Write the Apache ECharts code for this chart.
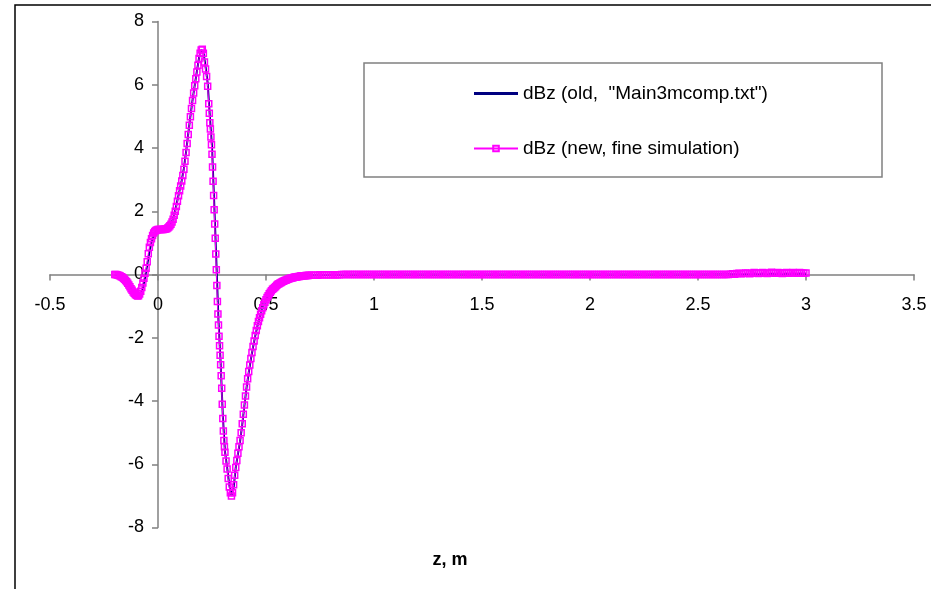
<!DOCTYPE html>
<html>
<head>
<meta charset="utf-8">
<title>dBz</title>
<script src="https://cdn.jsdelivr.net/npm/echarts@6/dist/echarts.min.js"></script>
<style>
html, body { margin: 0; padding: 0; background: #fff; }
#chart { width: 931px; height: 589px; }
</style>
</head>
<body>
<div id="chart"></div>
<script>
// dBz 对比：旧数据与新的精细仿真

const nameOld = 'dBz (old,  "Main3mcomp.txt")';
const nameNew = 'dBz (new, fine simulation)';

// 新仿真，z 从 -0.2 到 0.7
const zNew = [
    -0.2, -0.195, -0.19, -0.185, -0.18, -0.175, -0.17, -0.165, -0.16, -0.155,
    -0.15, -0.145, -0.14, -0.135, -0.13, -0.125, -0.12, -0.115, -0.11, -0.105,
    -0.1, -0.095, -0.09, -0.085, -0.08, -0.075, -0.07, -0.065, -0.06, -0.055,
    -0.05, -0.045, -0.04, -0.035, -0.03, -0.025, -0.02, -0.015, -0.01, -0.005,
    0, 0.005, 0.01, 0.015, 0.02, 0.025, 0.03, 0.035, 0.04, 0.045,
    0.05, 0.055, 0.06, 0.065, 0.07, 0.075, 0.08, 0.085, 0.09, 0.095,
    0.1, 0.105, 0.11, 0.115, 0.12, 0.125, 0.13, 0.135, 0.14, 0.145,
    0.15, 0.155, 0.16, 0.165, 0.17, 0.175, 0.18, 0.185, 0.19, 0.195,
    0.2, 0.205, 0.21, 0.215, 0.22, 0.225, 0.23, 0.235,
    0.2375, 0.24, 0.2425, 0.245, 0.2475, 0.25, 0.2525, 0.255, 0.2575, 0.26,
    0.2625, 0.265, 0.2675, 0.27, 0.2725, 0.275, 0.2775, 0.28, 0.2825, 0.285,
    0.2875, 0.29, 0.2925, 0.295, 0.2975, 0.3, 0.3025, 0.305, 0.3075, 0.31,
    0.315, 0.32, 0.325, 0.33, 0.335, 0.34, 0.345,
    0.35, 0.355, 0.36, 0.365, 0.37, 0.375, 0.38, 0.385, 0.39, 0.395,
    0.4, 0.405, 0.41, 0.415, 0.42, 0.425, 0.43, 0.435, 0.44, 0.445,
    0.45, 0.455, 0.46, 0.465, 0.47, 0.475, 0.48, 0.485, 0.49, 0.495,
    0.5, 0.505, 0.51, 0.515, 0.52, 0.525, 0.53, 0.535, 0.54, 0.545,
    0.55, 0.555, 0.56, 0.565, 0.57, 0.575, 0.58, 0.585, 0.59, 0.595,
    0.6, 0.605, 0.61, 0.615, 0.62, 0.625, 0.63, 0.635, 0.64, 0.645,
    0.65, 0.655, 0.66, 0.665, 0.67, 0.675, 0.68, 0.685, 0.69, 0.695,
    0.7
];
const dBzNew = [
    0, 0, -0.01, -0.02, -0.03, -0.05, -0.07, -0.09, -0.12, -0.15,
    -0.19, -0.23, -0.28, -0.33, -0.39, -0.45, -0.5, -0.55, -0.59, -0.63,
    -0.66, -0.68, -0.67, -0.62, -0.53, -0.41, -0.27, -0.12, 0.04, 0.2,
    0.4, 0.66, 0.86, 1.01, 1.13, 1.23, 1.31, 1.36, 1.39, 1.41,
    1.42, 1.42, 1.42, 1.42, 1.42, 1.42, 1.43, 1.44, 1.45, 1.47,
    1.5, 1.54, 1.59, 1.66, 1.75, 1.87, 2, 2.15, 2.32, 2.49,
    2.65, 2.8, 2.96, 3.13, 3.33, 3.58, 3.86, 4.14, 4.43, 4.72,
    4.99, 5.25, 5.5, 5.74, 5.97, 6.19, 6.4, 6.62, 6.83, 7,
    7.1, 7.12, 7, 6.72, 6.5, 6.26, 5.95, 5.4,
    5.1, 4.8, 4.6, 4.35, 4.1, 3.8, 3.4, 2.95, 2.5, 2.05,
    1.6, 1.15, 0.65, 0.15, -0.35, -0.85, -1.25, -1.6, -1.95, -2.25,
    -2.55, -2.85, -3.2, -3.6, -4.1, -4.55, -4.95, -5.25, -5.45, -5.62,
    -5.9, -6.15, -6.45, -6.72, -6.9, -7, -6.9,
    -6.65, -6.35, -6.1, -5.88, -5.65, -5.45, -5.25, -5, -4.72, -4.42,
    -4.13, -3.84, -3.56, -3.3, -3.07, -2.86, -2.66, -2.47, -2.28, -2.1,
    -1.93, -1.77, -1.62, -1.49, -1.37, -1.26, -1.15, -1.05, -0.96, -0.88,
    -0.8, -0.73, -0.67, -0.61, -0.56, -0.51, -0.47, -0.44, -0.41, -0.38,
    -0.34, -0.31, -0.29, -0.27, -0.25, -0.23, -0.21, -0.2, -0.18, -0.17,
    -0.15, -0.14, -0.13, -0.12, -0.11, -0.1, -0.09, -0.08, -0.08, -0.07,
    -0.06, -0.06, -0.05, -0.05, -0.04, -0.04, -0.04, -0.03, -0.03, -0.03,
    -0.02
];

// 新仿真的尾部，z 从 0.71 到 3.0
const zTail = [
    0.71, 0.72, 0.73, 0.74, 0.75, 0.76, 0.77, 0.78, 0.79, 0.8,
    0.81, 0.82, 0.83, 0.84, 0.85, 0.86, 0.87, 0.88, 0.89, 0.9,
    0.91, 0.92, 0.93, 0.94, 0.95, 0.96, 0.97, 0.98, 0.99, 1,
    1.01, 1.02, 1.03, 1.04, 1.05, 1.06, 1.07, 1.08, 1.09, 1.1,
    1.11, 1.12, 1.13, 1.14, 1.15, 1.16, 1.17, 1.18, 1.19, 1.2,
    1.21, 1.22, 1.23, 1.24, 1.25, 1.26, 1.27, 1.28, 1.29, 1.3,
    1.31, 1.32, 1.33, 1.34, 1.35, 1.36, 1.37, 1.38, 1.39, 1.4,
    1.41, 1.42, 1.43, 1.44, 1.45, 1.46, 1.47, 1.48, 1.49, 1.5,
    1.51, 1.52, 1.53, 1.54, 1.55, 1.56, 1.57, 1.58, 1.59, 1.6,
    1.61, 1.62, 1.63, 1.64, 1.65, 1.66, 1.67, 1.68, 1.69, 1.7,
    1.71, 1.72, 1.73, 1.74, 1.75, 1.76, 1.77, 1.78, 1.79, 1.8,
    1.81, 1.82, 1.83, 1.84, 1.85, 1.86, 1.87, 1.88, 1.89, 1.9,
    1.91, 1.92, 1.93, 1.94, 1.95, 1.96, 1.97, 1.98, 1.99, 2,
    2.01, 2.02, 2.03, 2.04, 2.05, 2.06, 2.07, 2.08, 2.09, 2.1,
    2.11, 2.12, 2.13, 2.14, 2.15, 2.16, 2.17, 2.18, 2.19, 2.2,
    2.21, 2.22, 2.23, 2.24, 2.25, 2.26, 2.27, 2.28, 2.29, 2.3,
    2.31, 2.32, 2.33, 2.34, 2.35, 2.36, 2.37, 2.38, 2.39, 2.4,
    2.41, 2.42, 2.43, 2.44, 2.45, 2.46, 2.47, 2.48, 2.49, 2.5,
    2.51, 2.52, 2.53, 2.54, 2.55, 2.56, 2.57, 2.58, 2.59, 2.6,
    2.61, 2.62, 2.63, 2.64, 2.65, 2.66, 2.67, 2.68, 2.69, 2.7,
    2.71, 2.72, 2.73, 2.74, 2.75, 2.76, 2.77, 2.78, 2.79, 2.8,
    2.81, 2.82, 2.83, 2.84, 2.85, 2.86, 2.87, 2.88, 2.89, 2.9,
    2.91, 2.92, 2.93, 2.94, 2.95, 2.96, 2.97, 2.98, 2.99, 3
];
const dBzTail = [
    -0.02, -0.02, -0.02, -0.02, -0.01, -0.01, -0.01, -0.01, -0.01, -0.01,
    -0.01, -0.01, -0.01, -0.01, 0, 0, 0, 0, 0, 0,
    0, 0, 0, 0, 0, 0, 0, 0, 0, 0,
    0, 0, 0, 0, 0, 0, 0, 0, 0, 0,
    0, 0, 0, 0, 0, 0, 0, 0, 0, 0,
    0, 0, 0, 0, 0, 0, 0, 0, 0, 0,
    0, 0, 0, 0, 0, 0, 0, 0, 0, 0,
    0, 0, 0, 0, 0, 0, 0, 0, 0, 0,
    0, 0, 0, 0, 0, 0, 0, 0, 0, 0,
    0, 0, 0, 0, 0, 0, 0, 0, 0, 0,
    0, 0, 0, 0, 0, 0, 0, 0, 0, 0,
    0, 0, 0, 0, 0, 0, 0, 0, 0, 0,
    0, 0, 0, 0, 0, 0, 0, 0, 0, 0,
    0, 0, 0, 0, 0, 0, 0, 0, 0, 0,
    0, 0, 0, 0, 0, 0, 0, 0, 0, 0,
    0, 0, 0, 0, 0, 0, 0, 0, 0, 0,
    0, 0, 0, 0, 0, 0, 0, 0, 0, 0,
    0, 0, 0, 0, 0, 0, 0, 0, 0, 0,
    0, 0, 0, 0, 0, 0, 0, 0, 0, 0,
    0, 0, 0, 0, 0.01, 0.02, 0.01, 0.03, 0.04, 0.02,
    0.03, 0.05, 0.04, 0.02, 0.04, 0.06, 0.05, 0.03, 0.05, 0.06,
    0.04, 0.03, 0.05, 0.07, 0.05, 0.04, 0.06, 0.05, 0.03, 0.05,
    0.06, 0.04, 0.05, 0.06, 0.05, 0.04, 0.06, 0.05, 0.04, 0.05
];

// 旧数据 (Main3mcomp.txt)
const zOld = [
    -0.2, -0.19, -0.18, -0.17, -0.16, -0.15, -0.14, -0.13, -0.12, -0.11,
    -0.1, -0.09, -0.08, -0.07, -0.06, -0.05, -0.04, -0.03, -0.02, -0.01,
    0, 0.01, 0.02, 0.03, 0.04, 0.05, 0.06, 0.07, 0.08, 0.09,
    0.1, 0.11, 0.12, 0.13, 0.14, 0.15, 0.16, 0.17, 0.18, 0.19,
    0.2, 0.21, 0.22, 0.23, 0.24, 0.25, 0.26, 0.27, 0.28, 0.29,
    0.3, 0.31, 0.32, 0.33, 0.34, 0.35, 0.36, 0.37, 0.38, 0.39,
    0.4, 0.41, 0.42, 0.43, 0.44, 0.45, 0.46, 0.47, 0.48, 0.49,
    0.5, 0.52, 0.54, 0.56, 0.58, 0.6, 0.63, 0.66, 0.7, 0.8,
    1, 1.5, 2, 2.5, 3
];
const dBzOld = [
    0, -0.01, -0.03, -0.06, -0.11, -0.18, -0.27, -0.38, -0.5, -0.6,
    -0.66, -0.69, -0.63, -0.44, -0.1, 0.3, 0.7, 1.02, 1.25, 1.37,
    1.41, 1.42, 1.42, 1.43, 1.46, 1.51, 1.6, 1.76, 2.02, 2.35,
    2.66, 2.98, 3.36, 3.88, 4.45, 5, 5.52, 5.98, 6.42, 6.85,
    7.1, 7.05, 6.58, 6.05, 5, 4.05, 2.3, 0.45, -1.45, -2.8,
    -4.45, -5.6, -6.1, -6.65, -7, -6.75, -6.1, -5.68, -5.28, -4.75,
    -4.15, -3.58, -3.1, -2.68, -2.3, -1.95, -1.64, -1.38, -1.16, -0.97,
    -0.81, -0.57, -0.42, -0.31, -0.22, -0.16, -0.1, -0.06, -0.03, -0.01,
    0, 0, 0, 0, 0.02
];

const chart = echarts.init(document.getElementById('chart'));

const dBzAll = dBzNew.concat(dBzTail);
const newData = zNew.concat(zTail).map(function(z, i) {
    return [z, dBzAll[i]];
});
const oldData = zOld.map(function(z, i) {
    return [z, dBzOld[i]];
});

const axisColor = '#808080';

// 坐标轴放在 0 处（x=0 在 158px，y=0 在 274.5px）
const option = {
    animation: false,
    backgroundColor: '#fff',
    textStyle: {
        fontFamily: '"Liberation Sans", Arial, sans-serif'
    },
    grid: {
        left: 50,
        right: 17,
        top: 21.5,
        bottom: 61.5
    },
    xAxis: {
        type: 'value',
        min: -0.5,
        max: 3.5,
        interval: 0.5,
        offset: -253,
        splitLine: { show: false },
        axisLine: {
            onZero: false,
            lineStyle: { color: axisColor, width: 1.5 }
        },
        axisTick: {
            show: true,
            length: 6,
            lineStyle: { color: axisColor, width: 1.5 }
        },
        axisLabel: {
            color: '#000',
            fontSize: 18,
            margin: 22
        }
    },
    yAxis: {
        type: 'value',
        min: -8,
        max: 8,
        interval: 2,
        offset: -108,
        splitLine: { show: false },
        axisLine: {
            show: true,
            onZero: false,
            lineStyle: { color: axisColor, width: 1.5 }
        },
        axisTick: {
            show: true,
            length: 6,
            lineStyle: { color: axisColor, width: 1.5 }
        },
        axisLabel: {
            color: '#000',
            fontSize: 18,
            margin: 14
        }
    },
    legend: {
        orient: 'vertical',
        left: 473,
        top: 84,
        padding: 0,
        itemWidth: 44,
        itemHeight: 7,
        itemGap: 36,
        textStyle: {
            color: '#000',
            fontSize: 19
        },
        data: [
            { name: nameOld, icon: 'path://M0,0L44,0L44,3L0,3Z' },
            { name: nameNew }
        ]
    },
    graphic: [
        {
            type: 'rect',
            silent: true,
            shape: { x: 15, y: 5, width: 1200, height: 800 },
            style: { fill: 'none', stroke: '#000', lineWidth: 1.5 }
        },
        {
            type: 'rect',
            silent: true,
            shape: { x: 364, y: 63, width: 518, height: 114 },
            style: { fill: 'none', stroke: '#808080', lineWidth: 1.5 }
        },
        {
            type: 'text',
            silent: true,
            x: 450,
            y: 560,
            style: {
                text: 'z, m',
                font: 'bold 18px "Liberation Sans", Arial, sans-serif',
                fill: '#000',
                align: 'center',
                verticalAlign: 'middle'
            }
        }
    ],
    series: [
        {
            name: nameOld,
            type: 'line',
            data: oldData,
            symbol: 'none',
            lineStyle: { color: '#000080', width: 2 },
            itemStyle: { color: '#000080' },
            emphasis: { disabled: true },
            z: 2
        },
        {
            name: nameNew,
            type: 'line',
            data: newData,
            symbol: 'rect',
            symbolSize: 6,
            lineStyle: { color: '#ff00ff', width: 1 },
            itemStyle: {
                color: 'rgba(255,0,255,0)',
                borderColor: '#ff00ff',
                borderWidth: 1.5
            },
            emphasis: { disabled: true },
            z: 3
        }
    ]
};

chart.setOption(option);

window.addEventListener('resize', function() {
    chart.resize();
});
</script>
</body>
</html>
